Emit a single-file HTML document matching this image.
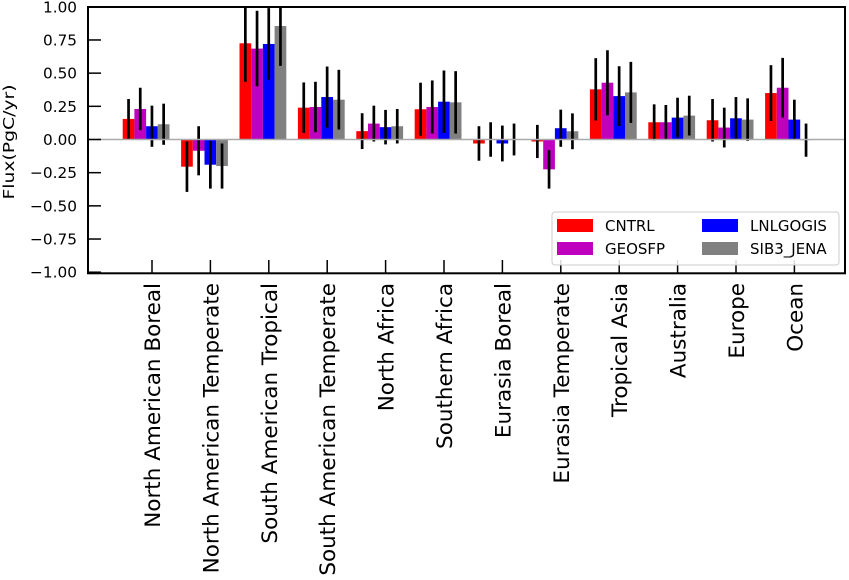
<!DOCTYPE html>
<html><head><meta charset="utf-8"><style>
html,body{margin:0;padding:0;background:#fff;}
svg{display:block;font-family:"DejaVu Sans","Liberation Sans",sans-serif;}
</style></head><body>
<svg id="chart" width="849" height="580" viewBox="0 0 849 580">
<g id="bars"></g>
<g id="errs"></g>
<line x1="88" y1="139.5" x2="845" y2="139.5" stroke="#aaaaaa" stroke-width="1.5"/>
<rect x="88" y="7" width="757" height="266.3" fill="none" stroke="#000" stroke-width="2"/>
<g id="yaxis"></g>
<g id="xaxis"></g>
<text transform="translate(14,142) rotate(-90)" text-anchor="middle" font-size="15" textLength="115" lengthAdjust="spacingAndGlyphs">Flux(PgC/yr)</text>
<g>
<rect x="552" y="212" width="287" height="53" rx="3" fill="#fff" fill-opacity="0.85" stroke="#ccc" stroke-width="1"/>
<rect x="557" y="219" width="36" height="13" fill="#ff0000"/>
<text x="605" y="231" font-size="15">CNTRL</text>
<rect x="557" y="242" width="36" height="13" fill="#bf00bf"/>
<text x="605" y="254" font-size="15">GEOSFP</text>
<rect x="702" y="219" width="36" height="13" fill="#0000ff"/>
<text x="750" y="231" font-size="15">LNLGOGIS</text>
<rect x="702" y="242" width="36" height="13" fill="#808080"/>
<text x="750" y="254" font-size="15">SIB3_JENA</text>
</g>
</svg>
<script>
const categories = ["North American Boreal","North American Temperate","South American Tropical","South American Temperate","North Africa","Southern Africa","Eurasia Boreal","Eurasia Temperate","Tropical Asia","Australia","Europe","Ocean"];
const seriesNames = ["CNTRL","GEOSFP","LNLGOGIS","SIB3_JENA"];
const cntrl = [0.155,-0.205,0.725,0.24,0.063,0.228,-0.03,-0.015,0.378,0.13,0.145,0.35];
const geosfp = [0.23,-0.085,0.685,0.245,0.12,0.245,0.0,-0.225,0.428,0.13,0.09,0.39];
const lnlgogis = [0.10,-0.19,0.72,0.32,0.093,0.285,-0.03,0.085,0.327,0.165,0.16,0.15];
const sib3jena = [0.115,-0.2,0.855,0.30,0.10,0.28,0.0,0.062,0.355,0.18,0.15,-0.005];
const cntrlErr = [0.15,0.19,0.29,0.19,0.135,0.2,0.13,0.125,0.235,0.135,0.16,0.21];
const geosfpErr = [0.16,0.185,0.285,0.19,0.135,0.2,0.13,0.145,0.245,0.13,0.15,0.225];
const lnlgogisErr = [0.155,0.18,0.27,0.23,0.13,0.235,0.135,0.14,0.225,0.15,0.16,0.15];
const sib3jenaErr = [0.155,0.17,0.30,0.225,0.13,0.235,0.12,0.135,0.23,0.15,0.16,0.125];
const yTicks = [1.0,0.75,0.5,0.25,0.0,-0.25,-0.5,-0.75,-1.0];

const NS="http://www.w3.org/2000/svg";
const y0=139.5, pxPer=132.7;
function yScale(v){return y0 - v*pxPer;}
function xTick(i){return 152 + i*58.4;}
const barW=11.7;
function barX(i,s){return xTick(i) - 29.3 + s*barW;}
function mk(tag,attrs,parent){const e=document.createElementNS(NS,tag);for(const k in attrs)e.setAttribute(k,attrs[k]);parent.appendChild(e);return e;}
const colors=["#ff0000","#bf00bf","#0000ff","#808080"];
const vals=[cntrl,geosfp,lnlgogis,sib3jena];
const errs=[cntrlErr,geosfpErr,lnlgogisErr,sib3jenaErr];
const gb=document.getElementById('bars'), ge=document.getElementById('errs');
for(let s=0;s<4;s++){
  for(let i=0;i<categories.length;i++){
    const v=vals[s][i];
    const ya=yScale(Math.max(v,0)), yb=yScale(Math.min(v,0));
    const r=mk('rect',{x:barX(i,s),y:ya,width:barW,height:Math.max(yb-ya,0.01),fill:colors[s]},gb);
    
    
    const cx=barX(i,s)+barW/2;
    const t=Math.max(yScale(v+errs[s][i]),7), b=Math.min(yScale(v-errs[s][i]),273);
    const l=mk('line',{x1:cx,x2:cx,y1:t,y2:b,stroke:"#000","stroke-width":2.7},ge);
    
    
  }
}
const gy=document.getElementById('yaxis');
yTicks.forEach(v=>{
  const y=yScale(v);
  const tk=mk('line',{x1:88,x2:101,y1:y,y2:y,stroke:"#000","stroke-width":1.5},gy);
  
  
  const t=mk('text',{x:77,y:y+5.5,"text-anchor":"end","font-size":15.5,textLength:(v<0?47:34),lengthAdjust:"spacingAndGlyphs"},gy);
  
  
  t.textContent=v.toFixed(2).replace('-','\u2212');
});
const gx=document.getElementById('xaxis');
categories.forEach((c,i)=>{
  const x=xTick(i);
  const tk=mk('line',{x1:x,x2:x,y1:273,y2:260,stroke:"#000","stroke-width":1.5},gx);
  
  
  const t=mk('text',{transform:`translate(${x+8},283) rotate(-90)`,"text-anchor":"end","font-size":21.5},gx);
  
  
  t.textContent=c;
});
</script>
</body></html>
